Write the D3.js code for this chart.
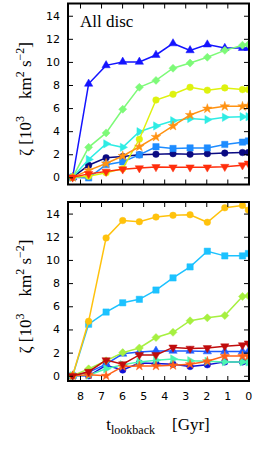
<!DOCTYPE html>
<html>
<head>
<meta charset="utf-8">
<script src="https://cdn.jsdelivr.net/npm/d3@7"></script>
<style>
  body { margin: 0; background: #fff; }
  .tick text { font-family: "DejaVu Sans", sans-serif; font-size: 11px; fill: #000; }
  .tick line { stroke: #000; stroke-width: 1; }
  .lab { font-family: "Liberation Serif", "DejaVu Serif", serif; fill: #000; }
</style>
</head>
<body>
<div id="chart"></div>
<script>
// lookback time of the snapshots [Gyr]
var tLookback = [8.35, 7.59, 6.76, 5.97, 5.18, 4.39, 3.58, 2.77, 1.95, 1.12, 0.28, 0.0];

var xTicks = [8, 7, 6, 5, 4, 3, 2, 1, 0];
var yTicks = [0, 2, 4, 6, 8, 10, 12, 14];

// top panel: all disc
var discNavy   = [0, 1.05, 1.7, 1.8, 1.95, 2.0, 2.05, 2.0, 2.05, 2.1, 2.15, 2.15];
var discBlue   = [0, 8.1, 9.7, 10.0, 10.0, 10.6, 11.6, 11.0, 11.5, 11.2, 11.2, 11.2];
var discAzure  = [0, -0.05, 1.1, 1.35, 1.95, 2.65, 2.5, 2.55, 2.55, 2.85, 3.05, 3.15];
var discCyan   = [0, 1.55, 2.9, 2.6, 3.95, 4.45, 4.9, 5.1, 5.0, 5.2, 5.25, 5.25];
var discGreen  = [0, 2.6, 3.85, 5.9, 7.8, 8.4, 9.45, 9.9, 10.4, 11.0, 11.45, 11.5];
var discYellow = [0, 0.1, 0.4, 0.75, 3.3, 6.7, 7.2, 7.8, 7.55, 7.75, 7.6, 7.6];
var discOrange = [0, 0.6, 1.2, 1.85, 2.65, 3.5, 4.45, 5.4, 5.95, 6.15, 6.15, 6.2];
var discRed    = [0, 0.3, 0.5, 0.7, 0.8, 0.9, 0.87, 0.87, 0.87, 0.92, 1.05, 1.2];

// bottom panel
var lowDarkBlue = [0, 0.0, 0.9, 0.5, 1.1, 1.05, 1.0, 0.8, 0.95, 1.2, 1.2, 1.2];
var lowBlue     = [0, 0.3, 1.0, 1.9, 2.05, 2.15, 2.15, 2.15, 2.1, 2.1, 2.1, 2.1];
var lowSky      = [0, 4.45, 5.5, 6.3, 6.6, 7.4, 8.45, 9.4, 10.75, 10.35, 10.35, 10.55];
var lowAqua     = [0, 0.05, 0.6, 0.95, 1.2, 1.35, 1.45, 1.3, 1.25, 1.2, 1.2, 1.2];
var lowLime     = [0, 0.6, 1.3, 2.0, 2.4, 3.3, 3.75, 4.75, 5.0, 5.2, 6.85, 6.9];
var lowGold     = [0, 4.7, 11.9, 13.4, 13.3, 13.7, 13.85, 13.9, 13.25, 14.5, 14.7, 14.3];
var lowOrange   = [0, 0.1, 0.0, 0.8, 0.85, 0.85, 0.9, 1.0, 1.25, 1.7, 1.7, 1.7];
var lowDarkRed  = [0, 0.35, 1.35, 1.0, 1.8, 1.8, 2.45, 2.35, 2.4, 2.55, 2.65, 2.8];

var svgWidth = 272;
var svgHeight = 458;

var svg = d3.select("#chart")
  .append("svg")
  .attr("width", svgWidth)
  .attr("height", svgHeight);

// marker shapes (symbol type, size, rotation)
var circle = { type: d3.symbolCircle, size: 34, rot: 0 };
var triUp = { type: d3.symbolTriangle, size: 30, rot: 0 };
var triRight = { type: d3.symbolTriangle, size: 30, rot: 90 };
var triDown = { type: d3.symbolTriangle, size: 30, rot: 180 };
var square = { type: d3.symbolSquare, size: 40, rot: 0 };
var diamond = { type: d3.symbolSquare, size: 32, rot: 45 };
var star = { type: d3.symbolStar, size: 28, rot: 0 };

var panels = [
  {
    id: "top", top: 3.5, bottom: 184.5, yDomain: [-0.62, 15.06], xLabels: false, note: "All disc",
    series: [
      { values: discNavy, color: "#0a0a82", marker: circle },
      { values: discBlue, color: "#1414ff", marker: triUp },
      { values: discAzure, color: "#1e8cff", marker: square },
      { values: discCyan, color: "#2eece4", marker: triRight },
      { values: discGreen, color: "#7dfa78", marker: diamond },
      { values: discYellow, color: "#def20e", marker: circle },
      { values: discOrange, color: "#ff9212", marker: star },
      { values: discRed, color: "#ff2e0c", marker: triDown }
    ]
  },
  {
    id: "bottom", top: 202, bottom: 381, yDomain: [-0.45, 15.0], xLabels: true, note: null,
    series: [
      { values: lowDarkBlue, color: "#1010d8", marker: circle },
      { values: lowBlue, color: "#1e5cff", marker: triUp },
      { values: lowSky, color: "#1cc2ff", marker: square },
      { values: lowAqua, color: "#4cf6b2", marker: triRight },
      { values: lowLime, color: "#a6f040", marker: diamond },
      { values: lowGold, color: "#ffc20c", marker: circle },
      { values: lowOrange, color: "#ff6218", marker: star },
      { values: lowDarkRed, color: "#c00c0c", marker: triDown }
    ]
  }
];

var left = 68, right = 249;

var xScale = d3.scaleLinear()
  .domain([8.57, -0.03])
  .range([left, right]);

panels.forEach(function(p) {
  var yScale = d3.scaleLinear()
    .domain(p.yDomain)
    .range([p.bottom, p.top]);

  var g = svg.append("g");

  // clip marks to the axes box
  svg.append("clipPath")
    .attr("id", "clip-" + p.id)
    .append("rect")
    .attr("x", left)
    .attr("y", p.top)
    .attr("width", right - left)
    .attr("height", p.bottom - p.top);

  var plot = g.append("g").attr("clip-path", "url(#clip-" + p.id + ")");

  var line = d3.line()
    .x(function(d, i) { return xScale(tLookback[i]); })
    .y(function(d) { return yScale(d); });

  p.series.forEach(function(s) {
    plot.append("path")
      .datum(s.values)
      .attr("d", line)
      .attr("fill", "none")
      .attr("stroke", s.color)
      .attr("stroke-width", 1.5);

    var sym = d3.symbol().type(s.marker.type).size(s.marker.size);
    plot.selectAll(null)
      .data(s.values)
      .enter()
      .append("path")
      .attr("d", sym)
      .attr("transform", function(d, i) {
        return "translate(" + xScale(tLookback[i]) + "," + yScale(d) + ") rotate(" + s.marker.rot + ")";
      })
      .attr("fill", s.color)
      .attr("stroke", s.color)
      .attr("stroke-opacity", 0.6)
      .attr("stroke-width", 0.8);
  });

  // inward ticks on all four sides
  var bottomAxis = d3.axisBottom(xScale).tickValues(xTicks).tickSizeInner(-5).tickSizeOuter(0).tickPadding(11);
  if (!p.xLabels) bottomAxis.tickFormat("");
  g.append("g")
    .attr("transform", "translate(0," + p.bottom + ")")
    .call(bottomAxis)
    .call(function(a) { a.select(".domain").remove(); });

  g.append("g")
    .attr("transform", "translate(0," + p.top + ")")
    .call(d3.axisTop(xScale).tickValues(xTicks).tickSizeInner(-5).tickSizeOuter(0).tickFormat(""))
    .call(function(a) { a.select(".domain").remove(); });

  g.append("g")
    .attr("transform", "translate(" + left + ",0)")
    .call(d3.axisLeft(yScale).tickValues(yTicks).tickSizeInner(-5).tickSizeOuter(0).tickPadding(8))
    .call(function(a) { a.select(".domain").remove(); });

  g.append("g")
    .attr("transform", "translate(" + right + ",0)")
    .call(d3.axisRight(yScale).tickValues(yTicks).tickSizeInner(-5).tickSizeOuter(0).tickFormat(""))
    .call(function(a) { a.select(".domain").remove(); });

  // frame
  g.append("rect")
    .attr("x", left)
    .attr("y", p.top)
    .attr("width", right - left)
    .attr("height", p.bottom - p.top)
    .attr("fill", "none")
    .attr("stroke", "#000")
    .attr("stroke-width", 2);

  // y label
  var ylab = g.append("text")
    .attr("class", "lab")
    .attr("transform", "translate(31," + ((p.top + p.bottom) / 2 + 5) + ") rotate(-90)")
    .attr("text-anchor", "middle")
    .attr("font-size", "17px");
  ylab.append("tspan").text("\u03B6 [10");
  ylab.append("tspan").attr("dy", -7).attr("font-size", "12px").text("3");
  ylab.append("tspan").attr("dy", 7).text("\u2003km");
  ylab.append("tspan").attr("dy", -7).attr("font-size", "12px").text("2");
  ylab.append("tspan").attr("dy", 7).text(" s");
  ylab.append("tspan").attr("dy", -7).attr("font-size", "12px").text("\u22122");
  ylab.append("tspan").attr("dy", 7).text("]");

  if (p.note) {
    g.append("text")
      .attr("class", "lab")
      .attr("x", 80)
      .attr("y", 27)
      .attr("font-size", "17px")
      .text(p.note);
  }
});

// x label
var xlab = svg.append("text")
  .attr("class", "lab")
  .attr("x", 158)
  .attr("y", 430)
  .attr("text-anchor", "middle")
  .attr("font-size", "17px");
xlab.append("tspan").text("t");
xlab.append("tspan").attr("dy", 4).attr("font-size", "12px").text("lookback");
xlab.append("tspan").attr("dy", -4).text("\u2003[Gyr]");
</script>
</body>
</html>
